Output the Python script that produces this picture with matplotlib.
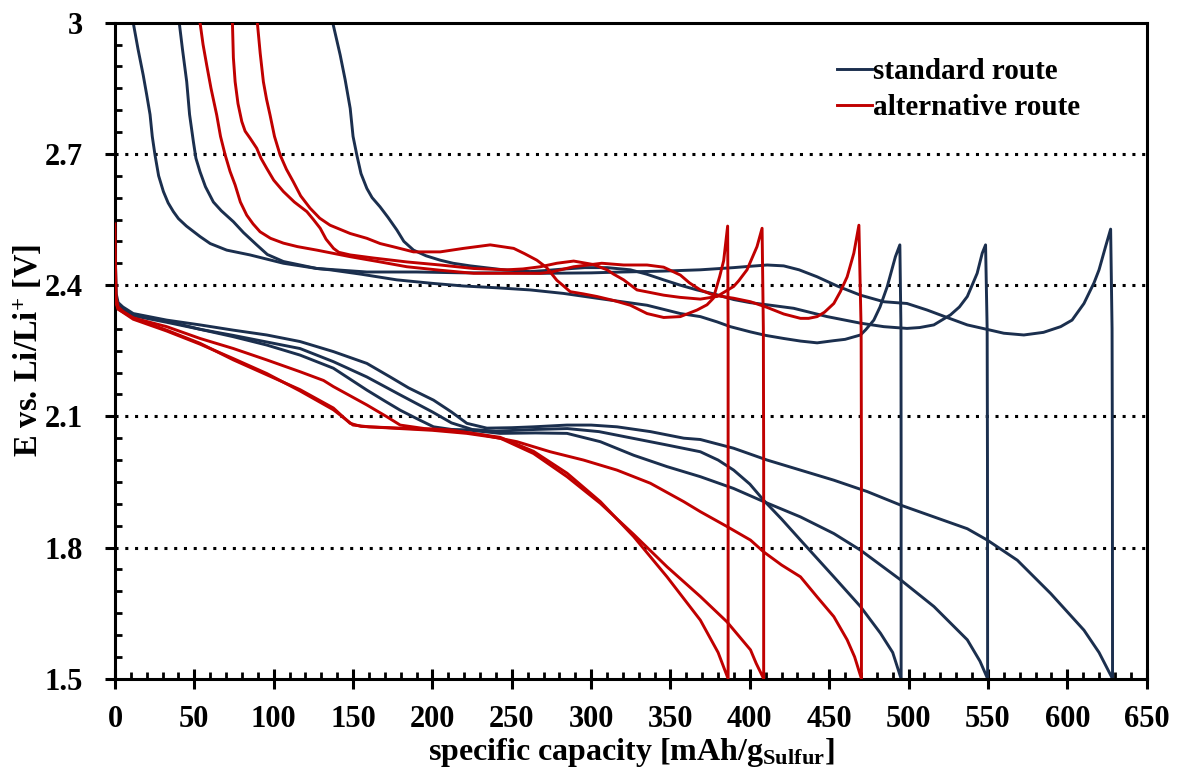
import matplotlib
matplotlib.use("Agg")
import matplotlib.pyplot as plt
from matplotlib.ticker import MultipleLocator, FuncFormatter

plt.rcParams['font.family'] = ['Liberation Serif', 'DejaVu Serif']
plt.rcParams['font.weight'] = 'bold'
plt.rcParams['mathtext.fontset'] = 'custom'
plt.rcParams['mathtext.rm'] = 'Liberation Serif:bold'
plt.rcParams['mathtext.bf'] = 'Liberation Serif:bold'
plt.rcParams['mathtext.it'] = 'Liberation Serif:bold:italic'

# standard route, cell with 628 mAh/g (discharge -> charge)
std1_q = [0, 0.3, 0.8, 2, 5, 11.5, 32.6, 53.6, 74.6, 95.6, 116.6, 137.6, 158.7, 173.4, 185, 200.7, 212,
          221.7, 234.3, 250, 263.7, 284.8, 300, 316.3, 337.4, 358.4, 368.8, 389.8, 410.9, 431.9, 452.9,
          473.9, 495, 516, 537, 549.6, 568.5, 589.5, 610.5, 620, 628.5,
          628.4, 628.2, 627.3, 624.1, 620, 616.8, 610.5, 603, 595.8, 585, 572.6, 560, 551.6, 537, 525,
          511.7, 499, 484.4, 469.7, 455, 442.4, 431, 421.3, 410.9, 400, 389.8, 368.8, 345, 320, 300, 270,
          250, 220, 190, 158.7, 127.2, 106.1, 96, 89.3, 81, 74.6, 67, 62, 57, 53.6, 51, 49.4, 47, 45.2, 42.5,
          40.5]
std1_e = [2.69, 2.45, 2.38, 2.36, 2.35, 2.335, 2.32, 2.309, 2.297, 2.286, 2.271, 2.248, 2.221, 2.19, 2.165,
          2.137, 2.11, 2.084, 2.073, 2.074, 2.076, 2.08, 2.08, 2.076, 2.065, 2.05, 2.047, 2.027, 2.0, 1.977,
          1.954, 1.928, 1.897, 1.87, 1.843, 1.817, 1.771, 1.695, 1.611, 1.56, 1.5,
          2.0, 2.3, 2.528, 2.488, 2.435, 2.405, 2.358, 2.32, 2.305, 2.292, 2.286, 2.29, 2.297, 2.309, 2.325,
          2.343, 2.358, 2.362, 2.377, 2.398, 2.419, 2.435, 2.444, 2.446, 2.443, 2.44, 2.435, 2.432, 2.43,
          2.428, 2.427, 2.428, 2.428, 2.43, 2.43, 2.438, 2.454, 2.47, 2.492, 2.52, 2.545, 2.57, 2.59, 2.625,
          2.659, 2.69, 2.728, 2.79, 2.865, 2.94, 3.0]

# standard route, cell with 549 mAh/g
std2_q = [0, 0.5, 2, 11.5, 32.6, 53.6, 74.6, 95.6, 116.6, 137.6, 158.7, 170, 179.7, 190, 200.7, 212, 221.7,
          242.7, 265, 284.8, 305.8, 326.8, 347.8, 368.8, 389.8, 408.7, 431.9, 452.9, 469.7, 495, 516, 537,
          545, 549.8,
          549.7, 549.5, 548.5, 546.4, 543.2, 537, 532, 526.4, 515.9, 507, 499, 484.4, 469.7, 448.7, 427.6,
          410.9, 400, 389.8, 377.2, 366.7, 356, 345.7, 335, 324.7, 310, 296, 280, 270, 261.6, 244.8, 223.8,
          213, 204.9, 196, 188.1, 182, 177.6, 172, 167, 162, 158.7, 155, 152.4, 150, 148.2, 145, 141.9, 137.2]
std2_e = [2.40, 2.37, 2.355, 2.33, 2.315, 2.299, 2.282, 2.263, 2.24, 2.21, 2.16, 2.135, 2.114, 2.095, 2.076,
          2.07, 2.069, 2.061, 2.062, 2.061, 2.042, 2.011, 1.985, 1.962, 1.935, 1.905, 1.87, 1.832, 1.794,
          1.726, 1.665, 1.589, 1.54, 1.5,
          2.0, 2.3, 2.492, 2.473, 2.427, 2.374, 2.35, 2.332, 2.309, 2.303, 2.301, 2.305, 2.313, 2.328, 2.347,
          2.355, 2.36, 2.367, 2.38, 2.389, 2.40, 2.412, 2.425, 2.435, 2.44, 2.44, 2.436, 2.433, 2.431, 2.435,
          2.444, 2.45, 2.457, 2.467, 2.48, 2.5, 2.526, 2.555, 2.579, 2.6, 2.621, 2.655, 2.697, 2.74, 2.804,
          2.87, 2.926, 3.0]

# standard route, cell with 495 mAh/g
std3_q = [0, 0.5, 2, 11.5, 32.6, 53.6, 74.6, 95.6, 116.6, 137.6, 158.7, 179.7, 200, 212, 225, 240, 265, 285,
          305, 326, 347, 368.8, 380, 389.8, 400, 408.7, 420, 431.9, 452.9, 469.7, 482.3, 490, 495.3,
          495.3, 495.2, 494.5, 491.7, 486.5, 482, 478.1, 473, 469.7, 460, 452.9, 442.4, 432, 421.3, 410,
          400.4, 387.7, 379.3, 368.8, 356.2, 335.2, 303.7, 282.6, 261.6, 240, 219.6, 200, 177.6, 155, 135.5,
          127.2, 106.1, 85.1, 70.4, 60, 53.6, 45, 40, 36.8, 33.5, 30.5, 27.5, 25.2, 23.5, 22.1, 20, 17.8,
          14.5, 11.5]
std3_e = [2.38, 2.36, 2.35, 2.333, 2.318, 2.299, 2.285, 2.27, 2.255, 2.225, 2.19, 2.149, 2.11, 2.085, 2.07,
          2.066, 2.07, 2.072, 2.065, 2.05, 2.035, 2.019, 2.0, 1.977, 1.945, 1.908, 1.865, 1.817, 1.733, 1.665,
          1.604, 1.56, 1.5,
          2.0, 2.3, 2.492, 2.465, 2.396, 2.35, 2.32, 2.298, 2.286, 2.276, 2.273, 2.268, 2.272, 2.278, 2.285,
          2.293, 2.305, 2.316, 2.328, 2.335, 2.354, 2.37, 2.381, 2.389, 2.394, 2.398, 2.404, 2.412, 2.425,
          2.435, 2.438, 2.45, 2.469, 2.48, 2.495, 2.511, 2.535, 2.552, 2.568, 2.588, 2.614, 2.65, 2.698, 2.74,
          2.79, 2.835, 2.88, 2.94, 3.0]

# alternative route, cell with 470 mAh/g
alt1_q = [0, 0.3, 0.8, 2, 5, 11.5, 32.6, 53.6, 74.6, 95.6, 116.6, 131.4, 137.6, 158.7, 171.3, 179.7, 195,
          211.2, 232.2, 253.3, 274.2, 295.2, 316.3, 337.3, 358.3, 368.8, 385.6, 400.4, 408.7, 420, 431.9,
          442.4, 452.9, 461.3, 466, 470.3,
          470.3, 470.1, 468.7, 465.5, 461.3, 457, 452.9, 447, 442.4, 437, 431.9, 421.3, 410.9, 400.4, 389.8,
          377.2, 368.8, 362, 356.2, 345.7, 335.2, 320.5, 306.7, 289, 275, 268, 247, 226, 205, 183.9, 167.1,
          148.2, 127.2, 115, 106.1, 98, 91.4, 87, 83, 79, 75.7, 72.5, 69.4, 66.5, 64.1, 60.5, 57.8, 55.5, 53.6]
alt1_e = [2.54, 2.45, 2.37, 2.35, 2.34, 2.325, 2.305, 2.278, 2.255, 2.229, 2.202, 2.182, 2.168, 2.126, 2.099,
          2.08, 2.072, 2.069, 2.057, 2.042, 2.019, 2.0, 1.977, 1.947, 1.905, 1.882, 1.848, 1.817, 1.79, 1.76,
          1.733, 1.687, 1.642, 1.589, 1.55, 1.5,
          2.0, 2.3, 2.537, 2.473, 2.419, 2.385, 2.358, 2.338, 2.328, 2.324, 2.324, 2.334, 2.349, 2.362, 2.37,
          2.377, 2.389, 2.405, 2.423, 2.441, 2.446, 2.446, 2.45, 2.442, 2.43, 2.427, 2.427, 2.427, 2.434,
          2.442, 2.453, 2.465, 2.48, 2.488, 2.496, 2.507, 2.522, 2.54, 2.56, 2.59, 2.629, 2.66, 2.698, 2.74,
          2.789, 2.85, 2.903, 2.95, 3.0]

# alternative route, cell with 408 mAh/g
alt2_q = [0, 0.5, 2, 11.5, 32.6, 53.6, 74.6, 95.6, 116.6, 137.6, 148.1, 155, 165, 179.7, 200, 221.7, 242.7,
          263.7, 284.8, 305.8, 326.8, 347.8, 368.8, 385.6, 400.4, 404, 408.7,
          408.7, 408.5, 407.7, 404.5, 398.2, 393, 389.8, 379.3, 368.8, 356, 345.7, 336, 328.9, 320.5, 314.2,
          310, 301.5, 289, 278.4, 268, 257, 247, 225.9, 204.9, 183.9, 162.8, 148.2, 141, 137.7, 133, 129.3,
          125, 120.9, 113, 106.1, 100, 95.6, 92, 89.3, 85.1, 82, 79.9, 77.5, 75.7, 74.6, 74]
alt2_e = [2.42, 2.37, 2.345, 2.325, 2.297, 2.267, 2.229, 2.195, 2.161, 2.119, 2.084, 2.077, 2.075, 2.072,
          2.068, 2.061, 2.05, 2.015, 1.962, 1.901, 1.83, 1.756, 1.688, 1.63, 1.566, 1.535, 1.5,
          2.0, 2.3, 2.53, 2.488, 2.435, 2.41, 2.397, 2.374, 2.368, 2.372, 2.377, 2.384, 2.389, 2.412, 2.425,
          2.435, 2.447, 2.455, 2.45, 2.442, 2.437, 2.435, 2.438, 2.446, 2.453, 2.462, 2.469, 2.475, 2.484,
          2.505, 2.53, 2.55, 2.568, 2.59, 2.614, 2.64, 2.667, 2.69, 2.713, 2.736, 2.752, 2.774, 2.815, 2.865,
          2.92, 3.0]

# alternative route, cell with 386 mAh/g
alt3_q = [0, 0.5, 2, 11.5, 32.6, 53.6, 74.6, 95.6, 116.6, 137.6, 150, 160, 179.7, 200, 221.7, 242.7, 263.7,
          284.8, 305.8, 326.8, 347.8, 368.8, 380, 386.3,
          386.3, 386.3, 386, 383.5, 381, 377, 373, 366.7, 356.2, 345.7, 335.2, 324.7, 314, 303.6, 295, 286.8,
          282, 278.4, 272, 265.8, 258, 251.2, 236.4, 219.6, 204.9, 188.1, 175, 167.1, 158.7, 148.2, 135.5,
          129, 122.9, 117, 112.4, 108, 104, 100.5, 97.7, 95.5, 93.5, 91.5, 89.7]
alt3_e = [2.40, 2.36, 2.345, 2.322, 2.295, 2.265, 2.232, 2.198, 2.158, 2.115, 2.08, 2.076, 2.073, 2.07,
          2.063, 2.052, 2.02, 1.97, 1.905, 1.825, 1.733, 1.634, 1.56, 1.5,
          2.0, 2.3, 2.535, 2.456, 2.42, 2.37, 2.355, 2.343, 2.328, 2.326, 2.335, 2.354, 2.365, 2.374, 2.38,
          2.385, 2.40, 2.411, 2.44, 2.457, 2.472, 2.484, 2.492, 2.484, 2.476, 2.476, 2.488, 2.495, 2.507,
          2.518, 2.537, 2.553, 2.576, 2.604, 2.636, 2.665, 2.698, 2.74, 2.789, 2.825, 2.865, 2.93, 3.0]

grid_levels = [1.8, 2.1, 2.4, 2.7]
navy = '#1B2F4E'
red = '#C00000'

fig = plt.figure(figsize=(11.78, 7.72), dpi=100)
ax = fig.add_axes([0.0976, 0.1208, 0.8758, 0.8498])

for g in grid_levels:
    ax.axhline(g, color='black', lw=2.2, ls=(0, (1, 2.2)), zorder=1)

ax.plot(std1_q, std1_e, color=navy, lw=2.1, label='standard route', zorder=2)
ax.plot(std2_q, std2_e, color=navy, lw=2.1, zorder=2)
ax.plot(std3_q, std3_e, color=navy, lw=2.1, zorder=2)
ax.plot(alt1_q, alt1_e, color=red, lw=2.1, label='alternative route', zorder=3)
ax.plot(alt2_q, alt2_e, color=red, lw=2.1, zorder=3)
ax.plot(alt3_q, alt3_e, color=red, lw=2.1, zorder=3)

ax.set_xlim(0, 650)
ax.set_ylim(1.5, 3.0)
ax.xaxis.set_major_locator(MultipleLocator(50))
ax.xaxis.set_minor_locator(MultipleLocator(10))
ax.yaxis.set_major_locator(MultipleLocator(0.3))
ax.yaxis.set_minor_locator(MultipleLocator(0.05))
ax.yaxis.set_major_formatter(FuncFormatter(lambda v, p: f'{v:g}'))

for s in ax.spines.values():
    s.set_linewidth(2.2)
ax.tick_params(axis='x', which='major', direction='inout', length=14, width=2.2, labelsize=22, pad=12)
ax.tick_params(axis='x', which='minor', direction='in', length=5, width=2.0)
ax.tick_params(axis='y', which='major', direction='out', length=7, width=2.2, labelsize=22, pad=16)
ax.tick_params(axis='y', which='minor', direction='in', length=5, width=2.0)

ax.set_xlabel('specific capacity [mAh/g$_{\\mathrm{Sulfur}}$]', fontsize=23, fontweight='bold')
ax.set_ylabel('E vs. Li/Li$^{\\mathrm{+}}$ [V]', fontsize=23.5, fontweight='bold')
ax.xaxis.set_label_coords(0.5, -0.087)
ax.yaxis.set_label_coords(-0.068, 0.5)

ax.legend(loc='upper left', bbox_to_anchor=(837 / 1178, 1 - 58 / 772), bbox_transform=fig.transFigure,
          frameon=False, fontsize=21, handlelength=1.2, handletextpad=0.05, labelspacing=0.3,
          borderpad=0, borderaxespad=0)

fig.savefig('out.png', dpi=100)
